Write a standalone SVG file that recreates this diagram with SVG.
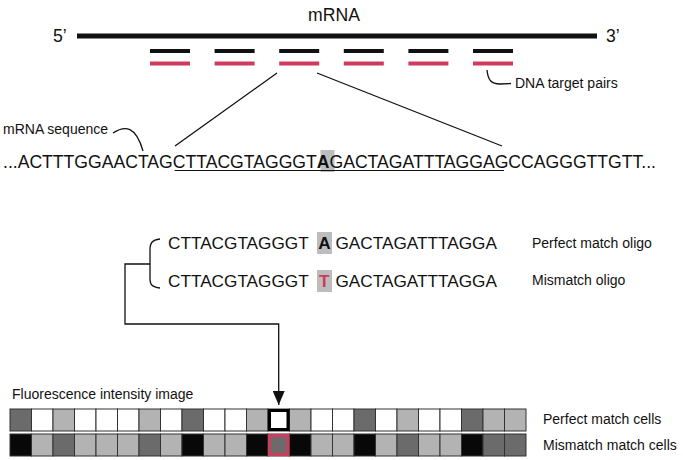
<svg xmlns="http://www.w3.org/2000/svg" width="683" height="460" viewBox="0 0 683 460">
<style>
text{font-family:"Liberation Sans",Arial,sans-serif;fill:#111}
.lbl{font-size:14px}
.big{font-size:17.6px}
.seq{font-size:17.2px}
.blk{stroke:#111;stroke-width:4;fill:none}
.red{stroke:#d03a5c;stroke-width:4;fill:none}
.ln{stroke:#111;stroke-width:1.3;fill:none}
.W{fill:#ffffff}
.L{fill:#b3b3b3}
.D{fill:#6b6b6b}
.K{fill:#080808}
.cells rect{stroke:#333;stroke-width:1}
.hl{fill:#bdbdbd}
</style>
<defs>
<marker id="ah" viewBox="0 0 14 12" refX="14" refY="6" markerWidth="14" markerHeight="12" markerUnits="userSpaceOnUse" orient="auto"><path d="M0,0 L14,6 L0,12 Z" fill="#111"/></marker>
</defs>

<g id="mrna">
<text class="big" x="334" y="21" text-anchor="middle">mRNA</text>
<text class="big" x="53" y="42">5’</text>
<text class="big" x="606" y="42">3’</text>
<line x1="77" y1="36" x2="597" y2="36" stroke="#111" stroke-width="5"/>
</g>

<g id="target-pairs">
<path class="blk" d="M150,51h40M214.6,51h40M279.2,51h40M343.8,51h40M408.4,51h40M473,51h40"/>
<path class="red" d="M150,63.5h40M214.6,63.5h40M279.2,63.5h40M343.8,63.5h40M408.4,63.5h40M473,63.5h40"/>
<path class="ln" d="M487,70 C488,80 491,84 500,84 L511,83.5"/>
<text class="lbl" x="515" y="88">DNA target pairs</text>
</g>

<g id="mrna-sequence">
<text class="lbl" x="3" y="134">mRNA sequence</text>
<path class="ln" d="M113,133 C125,125 136,126 143,151"/>
<rect class="hl" x="320.5" y="150" width="14" height="22"/>
<text class="big" x="3" y="168">...ACTTTGGAACTAG<tspan>CTTACGTAGGGT</tspan><tspan font-weight="bold">A</tspan><tspan>GACTAGATTTAGGA</tspan>GCCAGGGTTGTT...</text>
<line x1="174.6" y1="170.5" x2="504" y2="170.5" stroke="#111" stroke-width="1.2"/>
</g>

<g id="connectors">
<line class="ln" x1="277" y1="73" x2="175" y2="146"/>
<line class="ln" x1="317" y1="73" x2="502" y2="146"/>
<path class="ln" d="M160,239 C152,240 150,243 150,250 L150,278 C150,285 152,287 160,288"/>
<path class="ln" d="M150,264 L125,264 L125,324 L278.7,324 L278.7,405" marker-end="url(#ah)"/>
</g>

<g id="perfect-oligo">
<rect class="hl" x="317" y="232" width="15" height="22"/>
<text class="seq" x="168" y="249">CTTACGTAGGGT</text>
<text class="seq" x="318.3" y="249" font-weight="bold">A</text>
<text class="seq" x="335.5" y="249">GACTAGATTTAGGA</text>
<text class="lbl" x="532" y="248">Perfect match oligo</text>
</g>

<g id="mismatch-oligo">
<rect class="hl" x="317" y="270" width="15" height="22"/>
<text class="seq" x="168" y="287">CTTACGTAGGGT</text>
<text class="seq" x="319" y="287" font-weight="bold" style="fill:#d03a5c">T</text>
<text class="seq" x="335.5" y="287">GACTAGATTTAGGA</text>
<text class="lbl" x="532" y="285">Mismatch oligo</text>
</g>

<g id="fluorescence-image">
<text class="lbl" x="12" y="399">Fluorescence intensity image</text>
<g class="cells">
<rect class="D" x="10" y="409" width="21.5" height="22"/>
<rect class="W" x="31.5" y="409" width="21.5" height="22"/>
<rect class="L" x="53" y="409" width="21.5" height="22"/>
<rect class="W" x="74.5" y="409" width="21.5" height="22"/>
<rect class="W" x="96" y="409" width="21.5" height="22"/>
<rect class="W" x="117.5" y="409" width="21.5" height="22"/>
<rect class="L" x="139" y="409" width="21.5" height="22"/>
<rect class="W" x="160.5" y="409" width="21.5" height="22"/>
<rect class="D" x="182" y="409" width="21.5" height="22"/>
<rect class="W" x="203.5" y="409" width="21.5" height="22"/>
<rect class="W" x="225" y="409" width="21.5" height="22"/>
<rect class="L" x="246.5" y="409" width="21.5" height="22"/>
<rect class="W" x="268" y="409" width="21.5" height="22"/>
<rect class="L" x="289.5" y="409" width="21.5" height="22"/>
<rect class="W" x="311" y="409" width="21.5" height="22"/>
<rect class="W" x="332.5" y="409" width="21.5" height="22"/>
<rect class="D" x="354" y="409" width="21.5" height="22"/>
<rect class="W" x="375.5" y="409" width="21.5" height="22"/>
<rect class="L" x="397" y="409" width="21.5" height="22"/>
<rect class="W" x="418.5" y="409" width="21.5" height="22"/>
<rect class="W" x="440" y="409" width="21.5" height="22"/>
<rect class="D" x="461.5" y="409" width="21.5" height="22"/>
<rect class="L" x="483" y="409" width="21.5" height="22"/>
<rect class="L" x="504.5" y="409" width="21.5" height="22"/>

<rect class="K" x="10" y="434" width="21.5" height="22"/>
<rect class="L" x="31.5" y="434" width="21.5" height="22"/>
<rect class="D" x="53" y="434" width="21.5" height="22"/>
<rect class="L" x="74.5" y="434" width="21.5" height="22"/>
<rect class="L" x="96" y="434" width="21.5" height="22"/>
<rect class="L" x="117.5" y="434" width="21.5" height="22"/>
<rect class="D" x="139" y="434" width="21.5" height="22"/>
<rect class="L" x="160.5" y="434" width="21.5" height="22"/>
<rect class="K" x="182" y="434" width="21.5" height="22"/>
<rect class="L" x="203.5" y="434" width="21.5" height="22"/>
<rect class="L" x="225" y="434" width="21.5" height="22"/>
<rect class="K" x="246.5" y="434" width="21.5" height="22"/>
<rect class="D" x="268" y="434" width="21.5" height="22"/>
<rect class="K" x="289.5" y="434" width="21.5" height="22"/>
<rect class="L" x="311" y="434" width="21.5" height="22"/>
<rect class="L" x="332.5" y="434" width="21.5" height="22"/>
<rect class="K" x="354" y="434" width="21.5" height="22"/>
<rect class="L" x="375.5" y="434" width="21.5" height="22"/>
<rect class="D" x="397" y="434" width="21.5" height="22"/>
<rect class="L" x="418.5" y="434" width="21.5" height="22"/>
<rect class="L" x="440" y="434" width="21.5" height="22"/>
<rect class="K" x="461.5" y="434" width="21.5" height="22"/>
<rect class="D" x="483" y="434" width="21.5" height="22"/>
<rect class="D" x="504.5" y="434" width="21.5" height="22"/>
</g>
<rect x="269.5" y="410.5" width="18.5" height="19" fill="none" stroke="#000" stroke-width="3"/>
<rect x="269.5" y="435.5" width="18.5" height="19" fill="none" stroke="#d03a5c" stroke-width="3"/>
<text class="lbl" x="543" y="424">Perfect match cells</text>
<text class="lbl" x="543" y="450">Mismatch match cells</text>
</g>
</svg>
